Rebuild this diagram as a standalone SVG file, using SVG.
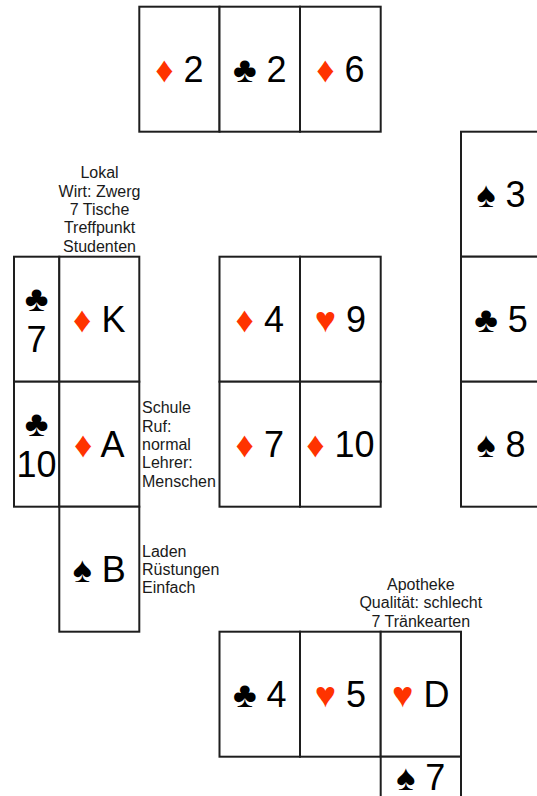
<svg xmlns="http://www.w3.org/2000/svg" width="537" height="796" viewBox="0 0 537 796">
<style>
.c{fill:#fff;stroke:#1e1e1e;stroke-width:2}
.t{font-family:"Liberation Sans",Arial,sans-serif;font-size:36px;fill:#000;text-anchor:middle}
.r{fill:#ff3300}
.l{font-family:"Liberation Sans",Arial,sans-serif;font-size:16px;fill:#1a1a1a}
.m{text-anchor:middle}
</style>
<rect width="537" height="796" fill="#fff"/>
<g id="top">
<g id="c-d2"><rect class="c" x="139.3" y="6.7" width="80.2" height="125"/><text class="t" x="179.4" y="82"><tspan class="r">♦</tspan> 2</text></g>
<g id="c-c2"><rect class="c" x="219.5" y="6.7" width="80.5" height="125"/><text class="t" x="259.8" y="82">♣ 2</text></g>
<g id="c-d6"><rect class="c" x="300" y="6.7" width="80.7" height="125"/><text class="t" x="340.4" y="82"><tspan class="r">♦</tspan> 6</text></g>
</g>
<g id="right">
<g id="c-s3"><rect class="c" x="461" y="131.7" width="80.5" height="125"/><text class="t" x="501" y="207">♠ 3</text></g>
<g id="c-c5"><rect class="c" x="461" y="256.7" width="80.5" height="125"/><text class="t" x="501" y="332">♣ 5</text></g>
<g id="c-s8"><rect class="c" x="461" y="381.7" width="80.5" height="125"/><text class="t" x="501" y="457">♠ 8</text></g>
</g>
<g id="left">
<g id="c-c7"><rect class="c" x="14" y="256.7" width="45.3" height="125"/><text class="t" x="36.6" y="311">♣</text><text class="t" x="36.6" y="352">7</text></g>
<g id="c-c10"><rect class="c" x="14" y="381.7" width="45.3" height="125"/><text class="t" x="36.6" y="436">♣</text><text class="t" x="36.6" y="477">10</text></g>
<g id="c-dK"><rect class="c" x="59.3" y="256.7" width="80" height="125"/><text class="t" x="99.3" y="332"><tspan class="r">♦</tspan> K</text></g>
<g id="c-dA"><rect class="c" x="59.3" y="381.7" width="80" height="125"/><text class="t" x="99.3" y="457"><tspan class="r">♦</tspan> A</text></g>
<g id="c-sB"><rect class="c" x="59.3" y="506.7" width="80" height="125"/><text class="t" x="99.3" y="582">♠ B</text></g>
</g>
<g id="middle">
<g id="c-d4"><rect class="c" x="219.5" y="256.7" width="80.5" height="125"/><text class="t" x="259.8" y="332"><tspan class="r">♦</tspan> 4</text></g>
<g id="c-h9"><rect class="c" x="300" y="256.7" width="80.7" height="125"/><text class="t" x="340.4" y="332"><tspan class="r">♥</tspan> 9</text></g>
<g id="c-d7"><rect class="c" x="219.5" y="381.7" width="80.5" height="125"/><text class="t" x="259.8" y="457"><tspan class="r">♦</tspan> 7</text></g>
<g id="c-d10"><rect class="c" x="300" y="381.7" width="80.7" height="125"/><text class="t" x="340.4" y="457"><tspan class="r">♦</tspan> 10</text></g>
</g>
<g id="bottom">
<g id="c-c4"><rect class="c" x="219.5" y="631.7" width="80.5" height="125"/><text class="t" x="259.8" y="707">♣ 4</text></g>
<g id="c-h5"><rect class="c" x="300" y="631.7" width="80.7" height="125"/><text class="t" x="340.4" y="707"><tspan class="r">♥</tspan> 5</text></g>
<g id="c-hD"><rect class="c" x="380.7" y="631.7" width="80.3" height="125"/><text class="t" x="420.8" y="707"><tspan class="r">♥</tspan> D</text></g>
<g id="c-s7"><rect class="c" x="380.7" y="756.7" width="80.3" height="125"/><text class="t" x="420.8" y="790">♠ 7</text></g>
</g>
<g id="labels">
<g id="lokal"><text class="l m" x="99.5" y="178.3">Lokal</text><text class="l m" x="99.5" y="196.7">Wirt: Zwerg</text><text class="l m" x="99.5" y="215">7 Tische</text><text class="l m" x="99.5" y="233.3">Treffpunkt</text><text class="l m" x="99.5" y="251.7">Studenten</text></g>
<g id="schule"><text class="l" x="142" y="413.3">Schule</text><text class="l" x="142" y="431.6">Ruf:</text><text class="l" x="142" y="450">normal</text><text class="l" x="142" y="468.3">Lehrer:</text><text class="l" x="142" y="486.7">Menschen</text></g>
<g id="laden"><text class="l" x="142" y="556.7">Laden</text><text class="l" x="142" y="575">Rüstungen</text><text class="l" x="142" y="593.3">Einfach</text></g>
<g id="apotheke"><text class="l m" x="420.8" y="590">Apotheke</text><text class="l m" x="420.8" y="608.3">Qualität: schlecht</text><text class="l m" x="420.8" y="626.6">7 Tränkearten</text></g>
</g>
<g id="connectors"/>
</svg>
